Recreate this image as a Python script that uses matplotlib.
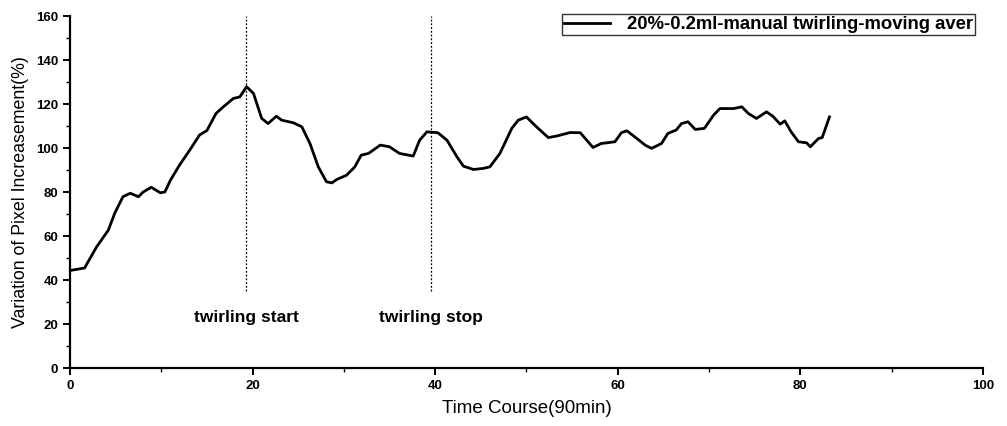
import matplotlib
matplotlib.use("Agg")
import matplotlib.pyplot as plt
from matplotlib.ticker import MultipleLocator

# Data
time_min = [0.2, 1.6, 2.9, 4.2, 4.9, 5.8, 6.6, 7.5, 8.0, 8.9, 9.9, 10.4, 11.0, 12.0, 13.1,
            14.2, 15.0, 16.0, 16.8, 17.9, 18.6, 19.35, 20.1, 21.0, 21.7, 22.6, 23.2, 24.5,
            25.4, 26.3, 27.2, 28.1, 28.7, 29.2, 30.3, 31.2, 31.9, 32.7, 34.0, 35.0, 36.1,
            37.6, 38.3, 39.1, 40.3, 41.3, 42.4, 43.1, 44.2, 45.3, 46.0, 47.1, 48.4, 49.1,
            50.0, 51.1, 52.4, 53.3, 54.8, 55.9, 57.3, 58.2, 59.7, 60.4, 61.0, 62.1, 63.0,
            63.7, 64.8, 65.5, 66.4, 67.0, 67.7, 68.5, 69.5, 70.5, 71.2, 72.7, 73.6, 74.3,
            75.2, 76.3, 77.0, 77.8, 78.3, 79.0, 79.8, 80.7, 81.1, 82.0, 82.4, 83.2]
pixel_increase = [44.5, 45.5, 55.0, 62.7, 70.4, 77.9, 79.5, 77.9, 80.0, 82.2, 79.7, 80.1,
                  85.4, 92.3, 99.0, 106.0, 108.0, 115.8, 118.8, 122.6, 123.3, 127.9, 124.9,
                  113.5, 111.2, 114.5, 112.7, 111.5, 109.7, 102.0, 91.5, 84.7, 84.2, 85.7,
                  87.7, 91.5, 96.8, 97.6, 101.4, 100.6, 97.6, 96.4, 103.6, 107.4, 107.0,
                  103.6, 96.0, 91.8, 90.3, 90.8, 91.5, 97.6, 109.0, 112.7, 114.2, 109.7,
                  104.8, 105.5, 107.1, 107.0, 100.3, 102.1, 102.9, 107.0, 107.9, 104.4,
                  101.4, 99.9, 102.1, 106.7, 108.2, 111.2, 112.0, 108.5, 109.0, 115.0,
                  118.0, 118.0, 118.8, 115.8, 113.5, 116.5, 114.5, 110.9, 112.4, 107.4,
                  102.9, 102.4, 100.6, 104.4, 104.8, 114.2]
event_x = [19.3, 39.5]
event_labels = ["twirling start", "twirling stop"]
series_label = "20%-0.2ml-manual twirling-moving aver"

plt.rcParams['font.family'] = ['Liberation Sans', 'DejaVu Sans']

fig = plt.figure(figsize=(10.07, 4.26), dpi=100)
ax = fig.add_axes([0.0695, 0.136, 0.9065, 0.826])

line, = ax.plot(time_min, pixel_increase, color='black', lw=2.0, label=series_label)

for ex, lab in zip(event_x, event_labels):
    ax.plot([ex, ex], [35, 160], color='black', lw=0.9, ls=(0, (1.5, 1.5)))
    ax.text(ex, 23, lab, ha='center', va='center', fontsize=12.5, fontweight='bold')

ax.set_xlim(0, 100)
ax.set_ylim(0, 160)
ax.xaxis.set_major_locator(MultipleLocator(20))
ax.xaxis.set_minor_locator(MultipleLocator(10))
ax.yaxis.set_major_locator(MultipleLocator(20))
ax.yaxis.set_minor_locator(MultipleLocator(10))
ax.spines['top'].set_visible(False)
ax.spines['right'].set_visible(False)
ax.spines['left'].set_linewidth(1.6)
ax.spines['bottom'].set_linewidth(1.6)
ax.tick_params(axis='both', which='major', direction='out', length=5, width=1.4, labelsize=9.5)
ax.tick_params(axis='both', which='minor', direction='out', length=3, width=1.0)
for t in ax.get_xticklabels() + ax.get_yticklabels():
    t.set_fontweight('bold')

ax.set_xlabel("Time Course(90min)", fontsize=13.5, labelpad=6)
ax.set_ylabel("Variation of Pixel Increasement(%)", fontsize=12.8, labelpad=5)

leg = ax.legend(loc='upper right', bbox_to_anchor=(975/1007, 1 - 14/426),
                bbox_transform=fig.transFigure, frameon=True,
                prop={'size': 13.3, 'weight': 'bold'},
                fancybox=False, edgecolor='black', borderpad=0.12, handlelength=2.5,
                handletextpad=0.9, borderaxespad=0)
leg.get_frame().set_linewidth(1.0)

fig.savefig("out.png", dpi=100)
